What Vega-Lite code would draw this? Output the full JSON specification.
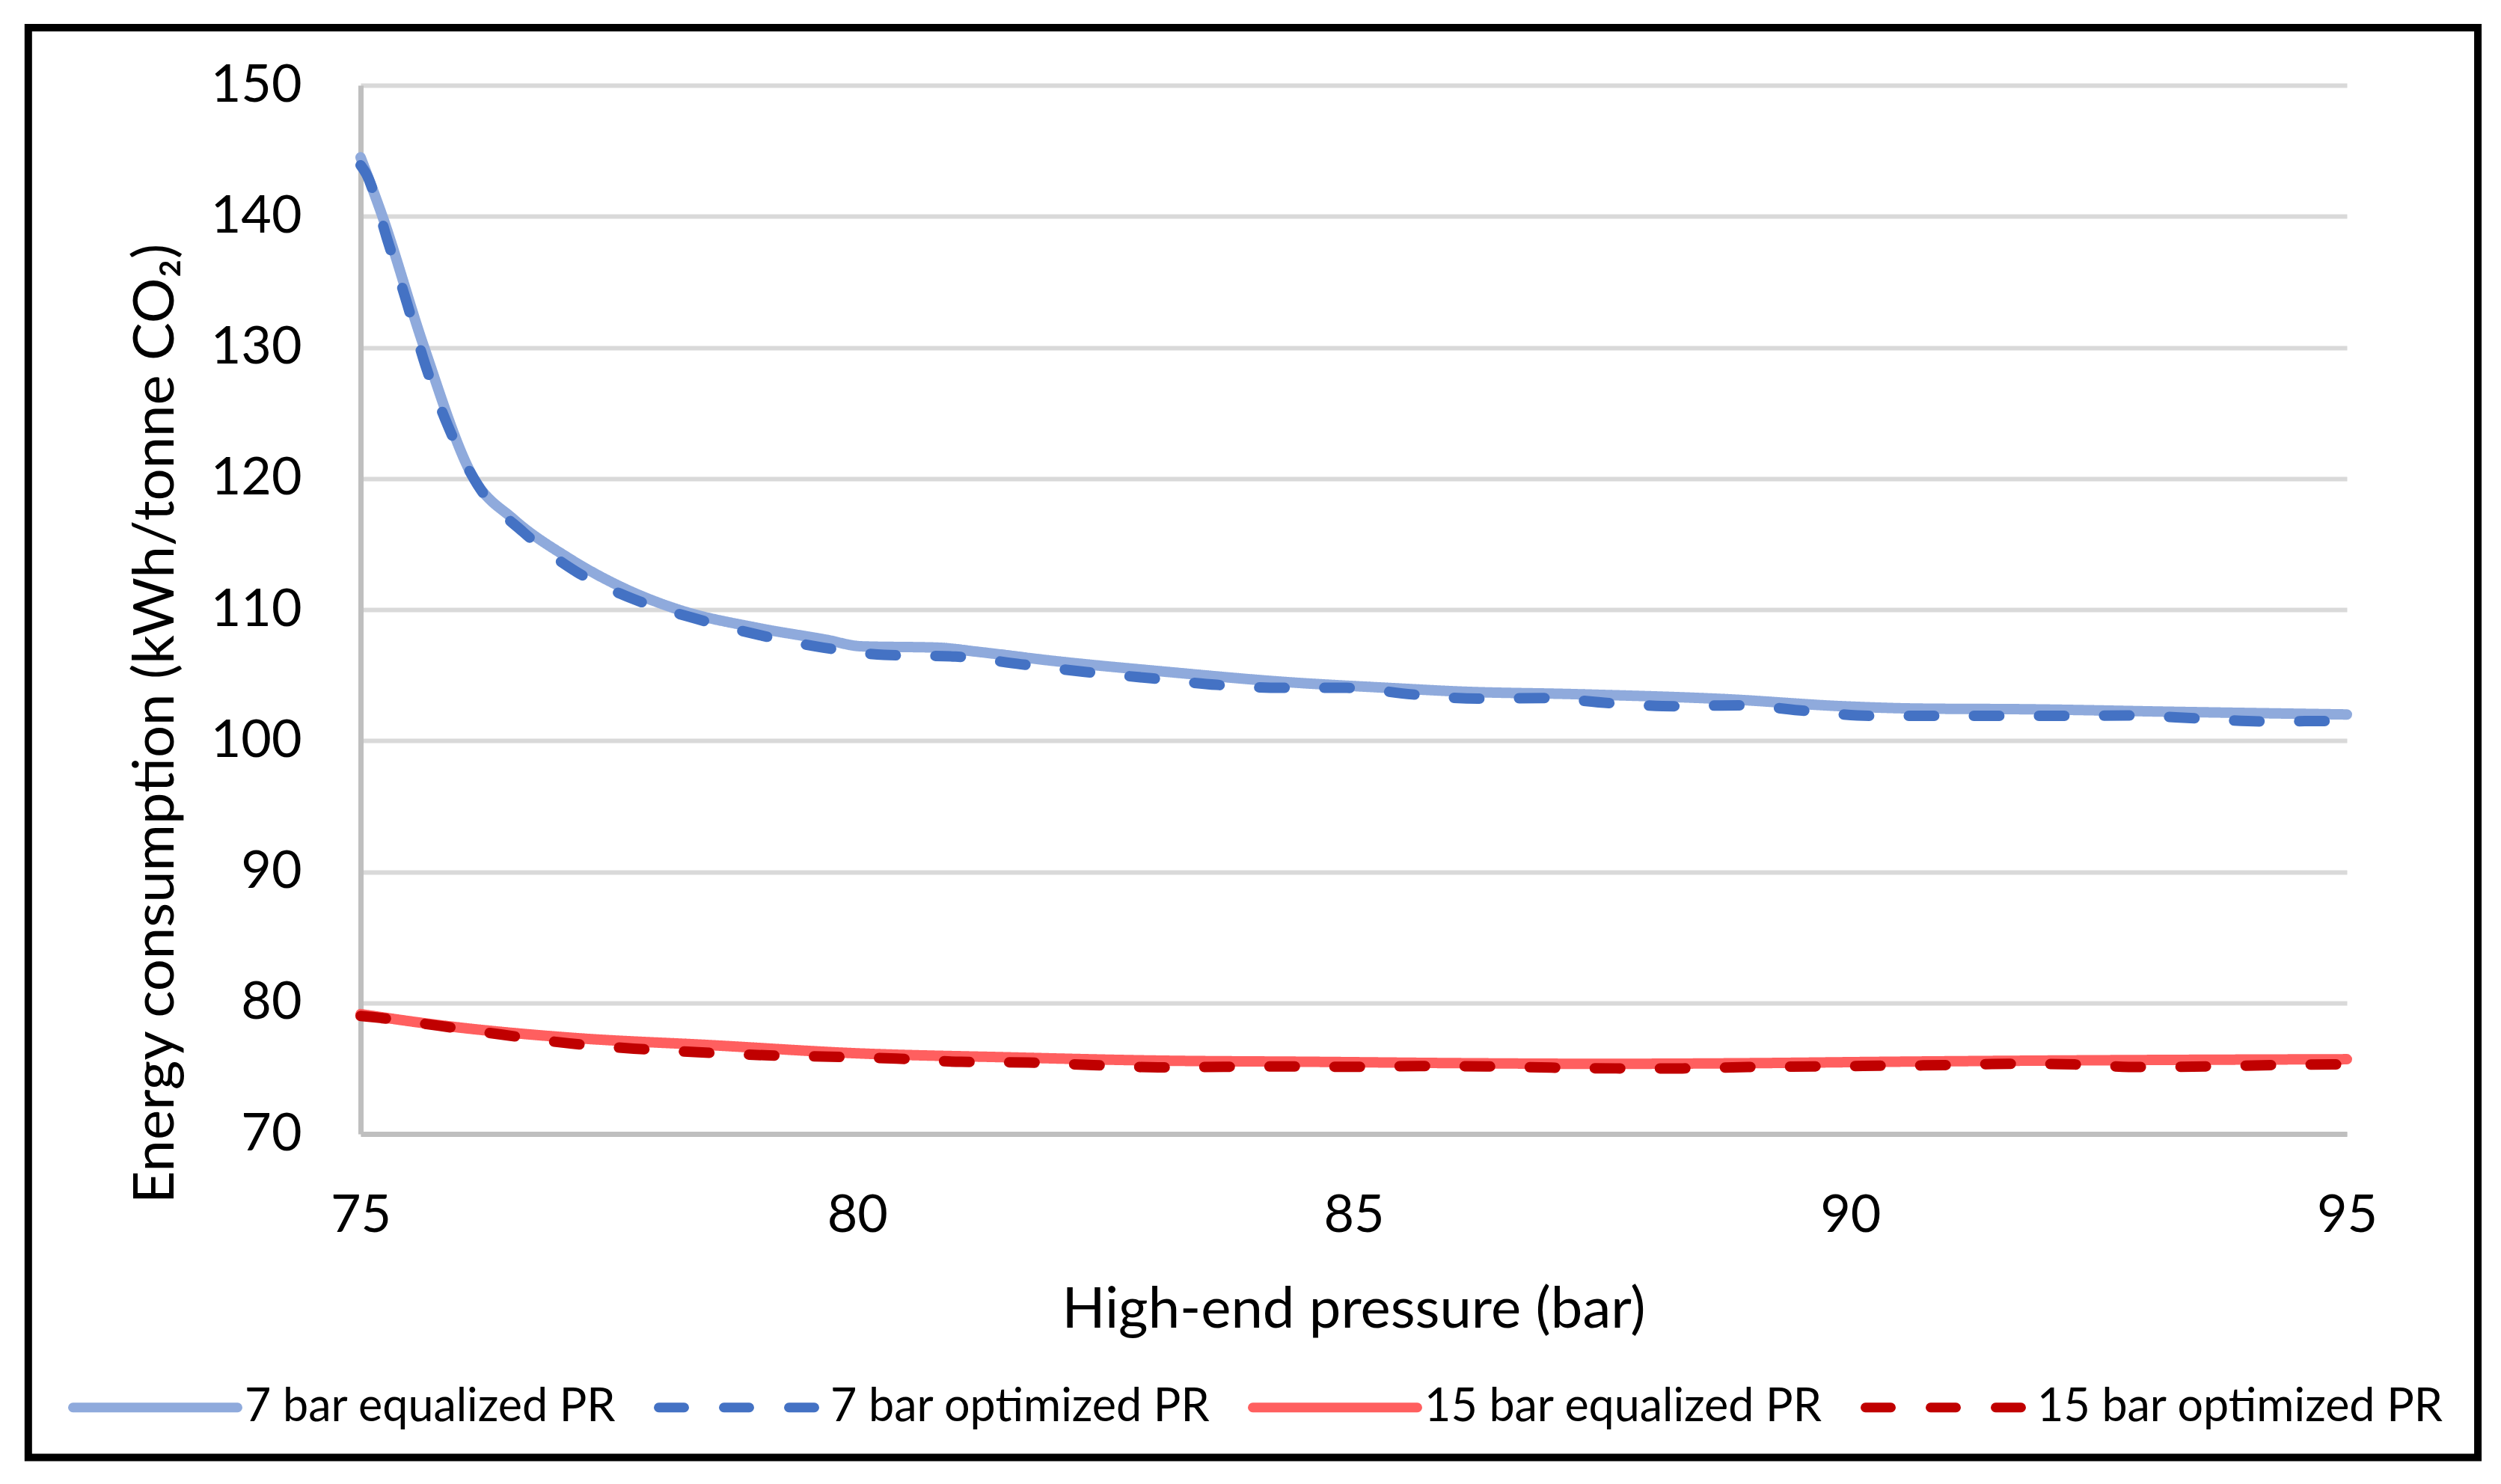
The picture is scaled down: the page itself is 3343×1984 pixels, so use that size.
{
  "$schema": "https://vega.github.io/schema/vega-lite/v6.json",
  "width": 2655,
  "height": 1402,
  "autosize": {"type": "pad"},
  "padding": {"left": 32, "top": 32, "right": 28, "bottom": 31},
  "background": "white",
  "datasets": {
    "frame": [{"id": 1}],
    "lines": [
      {"series": "7 bar equalized PR", "p": 75.0, "v": 144.5},
      {"series": "7 bar equalized PR", "p": 75.22, "v": 140.0},
      {"series": "7 bar equalized PR", "p": 75.64, "v": 130.0},
      {"series": "7 bar equalized PR", "p": 76.14, "v": 120.0},
      {"series": "7 bar equalized PR", "p": 76.54, "v": 116.9},
      {"series": "7 bar equalized PR", "p": 77.08, "v": 114.0},
      {"series": "7 bar equalized PR", "p": 77.66, "v": 111.6},
      {"series": "7 bar equalized PR", "p": 78.2, "v": 110.0},
      {"series": "7 bar equalized PR", "p": 79.0, "v": 108.6},
      {"series": "7 bar equalized PR", "p": 79.69, "v": 107.7},
      {"series": "7 bar equalized PR", "p": 80.04, "v": 107.2},
      {"series": "7 bar equalized PR", "p": 80.81, "v": 107.1},
      {"series": "7 bar equalized PR", "p": 81.19, "v": 106.8},
      {"series": "7 bar equalized PR", "p": 81.96, "v": 106.1},
      {"series": "7 bar equalized PR", "p": 83.12, "v": 105.25},
      {"series": "7 bar equalized PR", "p": 84.27, "v": 104.5},
      {"series": "7 bar equalized PR", "p": 85.42, "v": 104.0},
      {"series": "7 bar equalized PR", "p": 86.07, "v": 103.75},
      {"series": "7 bar equalized PR", "p": 87.23, "v": 103.55},
      {"series": "7 bar equalized PR", "p": 88.77, "v": 103.16},
      {"series": "7 bar equalized PR", "p": 89.92, "v": 102.63},
      {"series": "7 bar equalized PR", "p": 90.69, "v": 102.45},
      {"series": "7 bar equalized PR", "p": 91.75, "v": 102.4},
      {"series": "7 bar equalized PR", "p": 93.29, "v": 102.2},
      {"series": "7 bar equalized PR", "p": 95.0, "v": 102.0},

      {"series": "7 bar optimized PR", "p": 75.0, "v": 143.9},
      {"series": "7 bar optimized PR", "p": 75.06, "v": 143.2},
      {"series": "7 bar optimized PR", "p": 75.27, "v": 138.2},
      {"series": "7 bar optimized PR", "p": 75.47, "v": 133.3},
      {"series": "7 bar optimized PR", "p": 75.65, "v": 128.7},
      {"series": "7 bar optimized PR", "p": 75.88, "v": 124.0},
      {"series": "7 bar optimized PR", "p": 76.18, "v": 119.5},
      {"series": "7 bar optimized PR", "p": 76.64, "v": 115.9},
      {"series": "7 bar optimized PR", "p": 77.17, "v": 112.9},
      {"series": "7 bar optimized PR", "p": 77.75, "v": 110.8},
      {"series": "7 bar optimized PR", "p": 78.38, "v": 109.3},
      {"series": "7 bar optimized PR", "p": 79.02, "v": 108.05},
      {"series": "7 bar optimized PR", "p": 79.66, "v": 107.1},
      {"series": "7 bar optimized PR", "p": 80.27, "v": 106.55},
      {"series": "7 bar optimized PR", "p": 80.99, "v": 106.42},
      {"series": "7 bar optimized PR", "p": 81.65, "v": 105.83},
      {"series": "7 bar optimized PR", "p": 82.29, "v": 105.25},
      {"series": "7 bar optimized PR", "p": 82.96, "v": 104.76},
      {"series": "7 bar optimized PR", "p": 83.62, "v": 104.26},
      {"series": "7 bar optimized PR", "p": 84.27, "v": 104.03},
      {"series": "7 bar optimized PR", "p": 84.93, "v": 104.03},
      {"series": "7 bar optimized PR", "p": 85.59, "v": 103.53},
      {"series": "7 bar optimized PR", "p": 86.25, "v": 103.21},
      {"series": "7 bar optimized PR", "p": 86.91, "v": 103.25},
      {"series": "7 bar optimized PR", "p": 87.57, "v": 102.87},
      {"series": "7 bar optimized PR", "p": 88.23, "v": 102.63},
      {"series": "7 bar optimized PR", "p": 88.89, "v": 102.7},
      {"series": "7 bar optimized PR", "p": 89.54, "v": 102.28},
      {"series": "7 bar optimized PR", "p": 90.2, "v": 101.9},
      {"series": "7 bar optimized PR", "p": 90.86, "v": 101.9},
      {"series": "7 bar optimized PR", "p": 91.52, "v": 101.9},
      {"series": "7 bar optimized PR", "p": 92.17, "v": 101.9},
      {"series": "7 bar optimized PR", "p": 92.83, "v": 101.92},
      {"series": "7 bar optimized PR", "p": 93.49, "v": 101.7},
      {"series": "7 bar optimized PR", "p": 94.15, "v": 101.47},
      {"series": "7 bar optimized PR", "p": 94.81, "v": 101.5},
      {"series": "7 bar optimized PR", "p": 95.0, "v": 101.5},

      {"series": "15 bar equalized PR", "p": 75.0, "v": 79.14},
      {"series": "15 bar equalized PR", "p": 75.9, "v": 78.2},
      {"series": "15 bar equalized PR", "p": 77.12, "v": 77.34},
      {"series": "15 bar equalized PR", "p": 78.56, "v": 76.76},
      {"series": "15 bar equalized PR", "p": 80.0, "v": 76.15},
      {"series": "15 bar equalized PR", "p": 81.5, "v": 75.85},
      {"series": "15 bar equalized PR", "p": 83.0, "v": 75.6},
      {"series": "15 bar equalized PR", "p": 84.65, "v": 75.5},
      {"series": "15 bar equalized PR", "p": 86.07, "v": 75.4},
      {"series": "15 bar equalized PR", "p": 87.5, "v": 75.35},
      {"series": "15 bar equalized PR", "p": 89.0, "v": 75.4},
      {"series": "15 bar equalized PR", "p": 90.3, "v": 75.5},
      {"series": "15 bar equalized PR", "p": 92.0, "v": 75.6},
      {"series": "15 bar equalized PR", "p": 95.0, "v": 75.7},

      {"series": "15 bar optimized PR", "p": 75.0, "v": 79.0},
      {"series": "15 bar optimized PR", "p": 75.14, "v": 78.9},
      {"series": "15 bar optimized PR", "p": 75.79, "v": 78.25},
      {"series": "15 bar optimized PR", "p": 76.44, "v": 77.56},
      {"series": "15 bar optimized PR", "p": 77.1, "v": 76.91},
      {"series": "15 bar optimized PR", "p": 77.75, "v": 76.51},
      {"series": "15 bar optimized PR", "p": 78.4, "v": 76.23},
      {"series": "15 bar optimized PR", "p": 79.07, "v": 76.0},
      {"series": "15 bar optimized PR", "p": 79.73, "v": 75.89},
      {"series": "15 bar optimized PR", "p": 80.4, "v": 75.75},
      {"series": "15 bar optimized PR", "p": 81.05, "v": 75.5},
      {"series": "15 bar optimized PR", "p": 81.72, "v": 75.45},
      {"series": "15 bar optimized PR", "p": 82.38, "v": 75.25},
      {"series": "15 bar optimized PR", "p": 83.03, "v": 75.08},
      {"series": "15 bar optimized PR", "p": 83.69, "v": 75.12},
      {"series": "15 bar optimized PR", "p": 84.34, "v": 75.15},
      {"series": "15 bar optimized PR", "p": 85.0, "v": 75.12},
      {"series": "15 bar optimized PR", "p": 85.67, "v": 75.18},
      {"series": "15 bar optimized PR", "p": 86.33, "v": 75.15},
      {"series": "15 bar optimized PR", "p": 86.99, "v": 75.06},
      {"series": "15 bar optimized PR", "p": 87.64, "v": 75.0},
      {"series": "15 bar optimized PR", "p": 88.31, "v": 75.0},
      {"series": "15 bar optimized PR", "p": 88.97, "v": 75.1},
      {"series": "15 bar optimized PR", "p": 89.63, "v": 75.15},
      {"series": "15 bar optimized PR", "p": 90.29, "v": 75.2},
      {"series": "15 bar optimized PR", "p": 90.95, "v": 75.25},
      {"series": "15 bar optimized PR", "p": 91.6, "v": 75.35},
      {"series": "15 bar optimized PR", "p": 92.26, "v": 75.3},
      {"series": "15 bar optimized PR", "p": 92.92, "v": 75.1},
      {"series": "15 bar optimized PR", "p": 93.58, "v": 75.15},
      {"series": "15 bar optimized PR", "p": 94.24, "v": 75.25},
      {"series": "15 bar optimized PR", "p": 94.87, "v": 75.3},
      {"series": "15 bar optimized PR", "p": 95.0, "v": 75.3}
    ]
  },
  "layer": [
    {
      "data": {"name": "frame"},
      "mark": {"type": "rect", "fill": null, "fillOpacity": 0, "stroke": "black", "strokeWidth": 10, "clip": false},
      "encoding": {
        "x": {"datum": 71.654, "type": "quantitative", "scale": {"domain": [75, 95], "nice": false, "zero": false}},
        "x2": {"datum": 96.319},
        "y": {"datum": 154.39, "type": "quantitative", "scale": {"domain": [70, 150], "nice": false, "zero": false}},
        "y2": {"datum": 45.32}
      }
    },
    {
      "data": {"name": "lines"},
      "mark": {"type": "line", "interpolate": "monotone", "strokeWidth": 14, "strokeCap": "round", "strokeJoin": "round", "clip": false},
      "encoding": {
        "x": {
          "field": "p", "type": "quantitative",
          "scale": {"domain": [75, 95], "nice": false, "zero": false},
          "axis": {"title": "High-end pressure (bar)", "values": [75, 80, 85, 90, 95], "format": "d", "grid": false, "labelPadding": 75, "labelFlush": false, "labelOverlap": false, "titleX": 1327, "titleY": 258, "titleBaseline": "alphabetic", "titleAlign": "center"}
        },
        "y": {
          "field": "v", "type": "quantitative",
          "scale": {"domain": [70, 150], "nice": false, "zero": false},
          "axis": {"title": "Energy consumption (kWh/tonne CO₂)", "values": [70, 80, 90, 100, 110, 120, 130, 140, 150], "format": "d", "grid": true, "labelPadding": 79, "labelFlush": false, "labelOverlap": false, "titleX": -251, "titleY": 853, "titleAngle": -90, "titleBaseline": "alphabetic", "titleAlign": "center"}
        },
        "color": {
          "field": "series", "type": "nominal",
          "scale": {"domain": ["7 bar equalized PR", "7 bar optimized PR", "15 bar equalized PR", "15 bar optimized PR"], "range": ["#8FAADC", "#4472C4", "#FF5F5F", "#C00000"]},
          "legend": {"title": null, "orient": "none", "legendX": -391, "legendY": 1651, "direction": "horizontal", "columns": 4, "symbolType": "stroke", "symbolSize": 48400, "symbolStrokeWidth": 13, "labelFontSize": 61, "labelFont": "Lato", "labelColor": "#000000", "labelOffset": 3, "columnPadding": 30, "labelLimit": 0, "padding": 0, "encode": {"symbols": {"update": {"strokeCap": {"value": "round"}}}}}
        },
        "strokeDash": {
          "field": "series", "type": "nominal",
          "scale": {"domain": ["7 bar equalized PR", "7 bar optimized PR", "15 bar equalized PR", "15 bar optimized PR"], "range": [[1, 0], [34, 53], [1, 0], [34, 53]]},
          "legend": {"title": null, "orient": "none", "legendX": -391, "legendY": 1651, "direction": "horizontal", "columns": 4, "symbolType": "stroke", "symbolSize": 48400, "symbolStrokeWidth": 13, "labelFontSize": 61, "labelFont": "Lato", "labelColor": "#000000", "labelOffset": 3, "columnPadding": 30, "labelLimit": 0, "padding": 0, "encode": {"symbols": {"update": {"strokeCap": {"value": "round"}}}}}
        }
      }
    }
  ],
  "config": {
    "font": "Lato",
    "view": {"stroke": null},
    "axis": {
      "domainColor": "#BFBFBF", "domainWidth": 7,
      "gridColor": "#D9D9D9", "gridWidth": 6,
      "ticks": false, "tickSize": 0,
      "labelFont": "Lato", "labelFontSize": 70, "labelColor": "#000000",
      "titleFont": "Lato", "titleFontSize": 76, "titleFontWeight": "normal", "titleColor": "#000000"
    }
  }
}
